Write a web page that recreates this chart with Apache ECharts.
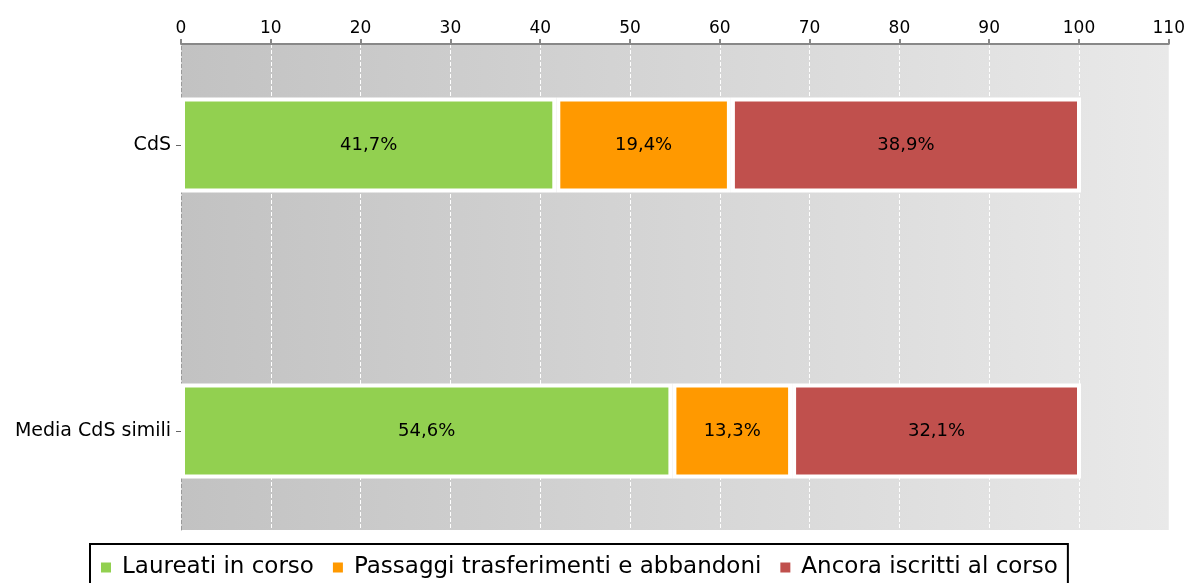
<!DOCTYPE html>
<html>
<head>
<meta charset="utf-8">
<script src="https://cdn.jsdelivr.net/npm/echarts@6/dist/echarts.min.js"></script>
<style>
  html, body { margin: 0; padding: 0; background: #fff; }
  #container { width: 1188px; height: 583px; }
</style>
</head>
<body>
<div id="container"></div>
<script>
// Data
const categories = ['CdS', 'Media CdS simili'];
const seriesNames = ['Laureati in corso', 'Passaggi trasferimenti e abbandoni', 'Ancora iscritti al corso'];
const laureati = [41.7, 54.6];
const passaggi = [19.4, 13.3];
const ancora = [38.9, 32.1];
const colors = ['#92d050', '#ff9900', '#c0504d'];

const container = document.getElementById('container');
const chart = echarts.init(container);

const font = 'DejaVu Sans';

function barSeries(name, values, color) {
  return {
    name: name,
    type: 'bar',
    stack: 'total',
    xAxisIndex: 1,
    yAxisIndex: 1,
    barWidth: 95,
    data: values,
    itemStyle: { color: color, borderColor: '#ffffff', borderWidth: 4 },
    label: {
      show: true,
      position: 'inside',
      color: '#000',
      fontFamily: font,
      fontSize: 18,
      formatter: p => p.value.toFixed(1).replace('.', ',') + '%'
    }
  };
}

const option = {
  animation: false,
  textStyle: { fontFamily: font },
  legend: {
    data: seriesNames,
    left: 90,
    top: 544,
    padding: [12, 10, 14, 9],
    borderColor: '#000',
    borderWidth: 2,
    icon: 'rect',
    itemWidth: 12,
    itemHeight: 12,
    itemGap: 17,
    textStyle: { fontFamily: font, fontSize: 23, color: '#000', padding: [0, 0, 0, 5] }
  },
  grid: [
    {
      // background plot area with axis and split lines
      left: 181, right: 17, top: 44, bottom: 53,
      show: true,
      borderWidth: 0,
      backgroundColor: {
        type: 'linear', x: 0, y: 0, x2: 1, y2: 0,
        colorStops: [{ offset: 0, color: '#c2c2c2' }, { offset: 1, color: '#e9e9e9' }]
      }
    },
    {
      // bar grid: category centres sit on its top and bottom edges
      left: 181, right: 17, top: 145, bottom: 152
    }
  ],
  xAxis: [
    {
      gridIndex: 0,
      type: 'value',
      position: 'top',
      min: 0, max: 110, interval: 10,
      axisLine: { show: true, onZero: false, lineStyle: { color: '#888', width: 2 } },
      axisTick: { show: true, length: 5, lineStyle: { color: '#888', width: 2 } },
      axisLabel: { color: '#000', fontSize: 17, margin: 7, fontFamily: font },
      splitLine: { show: true, lineStyle: { color: '#ffffff', type: 'dashed', width: 1 } }
    },
    {
      gridIndex: 1,
      type: 'value',
      min: 0, max: 110,
      show: false
    }
  ],
  yAxis: [
    {
      gridIndex: 0,
      type: 'value',
      axisLine: { show: true, onZero: false, lineStyle: { color: '#999', type: 'dashed', width: 1 } },
      axisTick: { show: false },
      axisLabel: { show: false },
      splitLine: { show: false }
    },
    {
      gridIndex: 1,
      type: 'category',
      data: categories,
      inverse: true,
      boundaryGap: false,
      axisLine: { show: false },
      axisTick: { show: true, length: 5, lineStyle: { color: '#666' } },
      axisLabel: { color: '#000', fontSize: 19, margin: 10, fontFamily: font },
      splitLine: { show: false }
    }
  ],
  series: [
    barSeries(seriesNames[0], laureati, colors[0]),
    barSeries(seriesNames[1], passaggi, colors[1]),
    barSeries(seriesNames[2], ancora, colors[2])
  ]
};

chart.setOption(option);
</script>
</body>
</html>
